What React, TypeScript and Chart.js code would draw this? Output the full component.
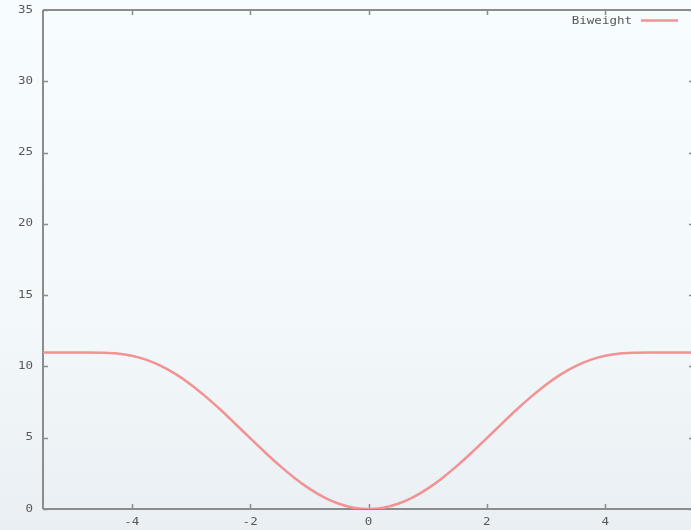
import React, { useEffect, useRef } from "react";
import { Chart, registerables } from "chart.js";

Chart.register(...registerables);

const seriesLabel = "Biweight";
const xValues = [
  -5.5, -5.25, -5, -4.75, -4.5, -4.25, -4, -3.75, -3.5, -3.25, -3, -2.75, -2.5, -2.25, -2, -1.75, -1.5, -1.25, -1, -0.75, -0.5, -0.25,
  0, 0.25, 0.5, 0.75, 1, 1.25, 1.5, 1.75, 2, 2.25, 2.5, 2.75, 3, 3.25, 3.5, 3.75, 4, 4.25, 4.5, 4.75, 5, 5.25, 5.5,
];
const yValues = [
  10.97, 10.97, 10.97, 10.97, 10.96, 10.91, 10.75, 10.46, 10.02, 9.44, 8.72, 7.88, 6.96, 5.97, 4.97, 3.98, 3.04, 2.18, 1.43, 0.82, 0.37, 0.09,
  0, 0.09, 0.37, 0.82, 1.43, 2.18, 3.04, 3.98, 4.97, 5.97, 6.96, 7.88, 8.72, 9.44, 10.02, 10.46, 10.75, 10.91, 10.96, 10.97, 10.97, 10.97, 10.97,
];
const xTicks = [-4, -2, 0, 2, 4];
const yTicks = [0, 5, 10, 15, 20, 25, 30, 35];

const LINE_COLOR = "#f29292";
const AXIS_COLOR = "#8c8c8c";
const TEXT_COLOR = "#585858";

function drawStretched(ctx: CanvasRenderingContext2D, text: string, x: number, y: number, align: CanvasTextAlign) {
  ctx.save();
  ctx.translate(x, y);
  ctx.scale(1.25, 1);
  ctx.textAlign = align;
  ctx.textBaseline = "middle";
  ctx.fillText(text, 0, 0);
  ctx.restore();
}

const gnuplotPlugin = {
  id: "gnuplotAxes",
  beforeDatasetsDraw(chart: any) {
    const { ctx, chartArea, scales } = chart;
    const { left, right, top, bottom } = chartArea;
    ctx.save();
    ctx.strokeStyle = AXIS_COLOR;
    ctx.lineWidth = 2;
    ctx.beginPath();
    ctx.moveTo(left, top);
    ctx.lineTo(right, top);
    ctx.moveTo(left, top);
    ctx.lineTo(left, bottom);
    ctx.moveTo(left, bottom);
    ctx.lineTo(right, bottom);
    ctx.stroke();
    ctx.lineWidth = 1.5;
    ctx.beginPath();
    for (const t of xTicks) {
      const px = Math.round(scales.x.getPixelForValue(t)) + 0.5;
      ctx.moveTo(px, bottom);
      ctx.lineTo(px, bottom - 5);
      ctx.moveTo(px, top);
      ctx.lineTo(px, top + 5);
    }
    for (const t of yTicks) {
      const py = Math.round(scales.y.getPixelForValue(t)) + 0.5;
      ctx.moveTo(left, py);
      ctx.lineTo(left + 5, py);
      ctx.moveTo(right, py);
      ctx.lineTo(right - 5, py);
    }
    ctx.stroke();
    ctx.restore();
  },
  afterDraw(chart: any) {
    const { ctx, chartArea, scales } = chart;
    ctx.save();
    ctx.fillStyle = TEXT_COLOR;
    ctx.font = "10px 'DejaVu Sans Mono'";
    for (const t of yTicks) {
      const py = scales.y.getPixelForValue(t);
      drawStretched(ctx, String(t), chartArea.left - 10, py, "right");
    }
    for (const t of xTicks) {
      const px = scales.x.getPixelForValue(t);
      drawStretched(ctx, t < 0 ? "-" + Math.abs(t) : String(t), px, chartArea.bottom + 13, "center");
    }
    // legend
    drawStretched(ctx, seriesLabel, 632, 21, "right");
    ctx.strokeStyle = LINE_COLOR;
    ctx.lineWidth = 2.5;
    ctx.beginPath();
    ctx.moveTo(641, 20.5);
    ctx.lineTo(678, 20.5);
    ctx.stroke();
    ctx.restore();
  },
};

export default function App() {
  const canvasRef = useRef<HTMLCanvasElement | null>(null);

  useEffect(() => {
    document.body.style.margin = "0";
    document.body.style.overflow = "hidden";
    const canvas = canvasRef.current;
    if (!canvas) return;
    const chart = new Chart(canvas, {
      type: "line",
      data: {
        datasets: [
          {
            label: seriesLabel,
            data: xValues.map((x, i) => ({ x, y: yValues[i] })),
            borderColor: LINE_COLOR,
            borderWidth: 2.5,
            pointRadius: 0,
            fill: false,
            cubicInterpolationMode: "monotone",
          },
        ],
      },
      options: {
        responsive: false,
        animation: false,
        layout: { padding: { left: 43, top: 10, bottom: 21, right: 6 } },
        plugins: { legend: { display: false }, tooltip: { enabled: false } },
        scales: {
          x: { type: "linear", min: -5.5, max: 5.5, display: false },
          y: { type: "linear", min: 0, max: 35, display: false },
        },
      },
      plugins: [gnuplotPlugin],
    });
    return () => chart.destroy();
  }, []);

  return (
    <div
      style={{
        width: 691,
        height: 530,
        overflow: "hidden",
        background: "linear-gradient(180deg, #f7fcfe 0%, #f3f8fa 60%, #e9eff3 100%)",
      }}
    >
      <canvas ref={canvasRef} width={700} height={530} style={{ display: "block" }} />
    </div>
  );
}
